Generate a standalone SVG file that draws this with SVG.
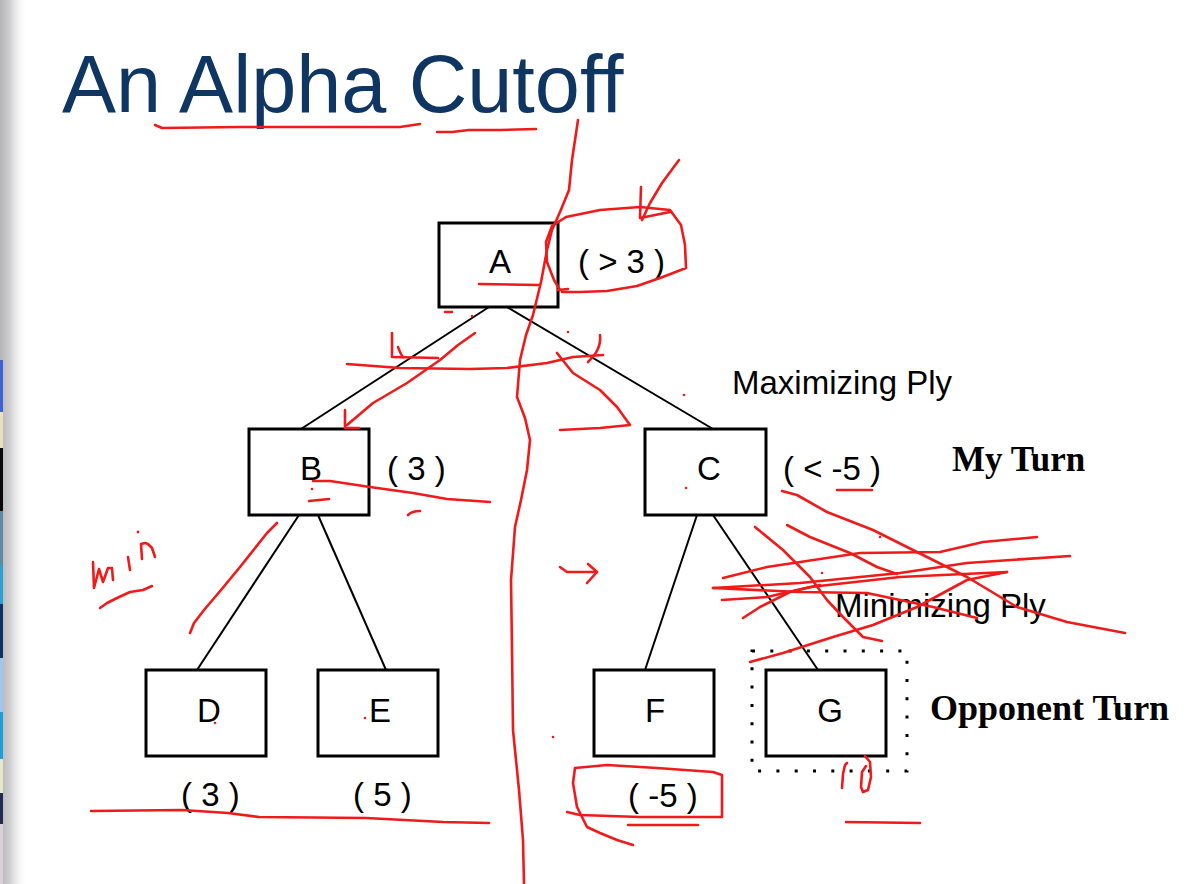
<svg xmlns="http://www.w3.org/2000/svg" width="1190" height="884" viewBox="0 0 1190 884">
  <defs>
    <linearGradient id="edgeShade" x1="0" y1="0" x2="1" y2="0">
      <stop offset="0" stop-color="#b4b4b6"/>
      <stop offset="0.35" stop-color="#cfcfd1"/>
      <stop offset="1" stop-color="#ffffff" stop-opacity="0"/>
    </linearGradient>
    <style>
      .box { fill: #ffffff; stroke: #000000; stroke-width: 3; }
      .edge { stroke: #000000; stroke-width: 2; fill: none; }
      .lbl { font-family: "Liberation Sans", Arial, sans-serif; font-size: 33px; fill: #000000; }
      .name { text-anchor: middle; }
      .turn { font-family: "Liberation Serif", "Times New Roman", serif; font-weight: bold; fill: #000000; }
      .ink { fill: none; stroke: #f01a1a; stroke-width: 2.6; stroke-linecap: round; stroke-linejoin: round; }
      .dot { fill: #f01a1a; }
    </style>
  </defs>

  <!-- page background and left edge -->
  <rect x="0" y="0" width="1190" height="884" fill="#ffffff"/>
  <rect x="0" y="0" width="28" height="884" fill="url(#edgeShade)"/>
  <g id="thumbnail-strip">
    <rect x="0" y="360" width="3" height="52" fill="#3d63d2"/>
    <rect x="0" y="412" width="3" height="36" fill="#e6e2bf"/>
    <rect x="0" y="448" width="3" height="63" fill="#0a0a0a"/>
    <rect x="0" y="511" width="3" height="54" fill="#5b8aa2"/>
    <rect x="0" y="565" width="3" height="39" fill="#2c9fd3"/>
    <rect x="0" y="604" width="3" height="54" fill="#0b3262"/>
    <rect x="0" y="658" width="3" height="54" fill="#9fc6ef"/>
    <rect x="0" y="712" width="3" height="47" fill="#1c9fd8"/>
    <rect x="0" y="759" width="3" height="34" fill="#e6e6c8"/>
    <rect x="0" y="793" width="3" height="31" fill="#232a52"/>
    <rect x="0" y="824" width="3" height="60" fill="#d8d2d8"/>
  </g>

  <!-- title -->
  <text id="title" x="62" y="112" font-family="'Liberation Sans', Arial, sans-serif" font-size="81" fill="#0f3562">An Alpha Cutoff</text>

  <!-- tree edges -->
  <g id="connectors">
    <line class="edge" x1="489" y1="307" x2="301" y2="429"/>
    <line class="edge" x1="507" y1="307" x2="713" y2="429"/>
    <line class="edge" x1="299" y1="515" x2="197" y2="670"/>
    <line class="edge" x1="318" y1="515" x2="386" y2="670"/>
    <line class="edge" x1="697" y1="515" x2="645" y2="670"/>
    <line class="edge" x1="713" y1="515" x2="818" y2="670"/>
  </g>

  <!-- nodes -->
  <g id="node-A">
    <rect class="box" x="439" y="223" width="119" height="84"/>
    <text class="lbl name" x="500" y="273">A</text>
    <text class="lbl" x="578" y="273">( &gt; 3 )</text>
  </g>
  <g id="node-B">
    <rect class="box" x="249" y="429" width="120" height="86"/>
    <text class="lbl name" x="311" y="480">B</text>
    <text class="lbl" x="387" y="480">( 3 )</text>
  </g>
  <g id="node-C">
    <rect class="box" x="645" y="429" width="121" height="86"/>
    <text class="lbl name" x="709" y="480">C</text>
    <text class="lbl" x="783" y="480">( &lt; -5 )</text>
  </g>
  <g id="node-D">
    <rect class="box" x="146" y="670" width="120" height="86"/>
    <text class="lbl name" x="209" y="722">D</text>
    <text class="lbl" x="181" y="806">( 3 )</text>
  </g>
  <g id="node-E">
    <rect class="box" x="318" y="670" width="120" height="86"/>
    <text class="lbl name" x="380" y="722">E</text>
    <text class="lbl" x="353" y="806">( 5 )</text>
  </g>
  <g id="node-F">
    <rect class="box" x="594" y="670" width="120" height="86"/>
    <text class="lbl name" x="655" y="722">F</text>
    <text class="lbl" x="628" y="807">( -5 )</text>
  </g>
  <g id="node-G">
    <rect x="752" y="651" width="155" height="120" fill="none" stroke="#000000" stroke-width="3" stroke-dasharray="3 15.3"/>
    <rect class="box" x="766" y="670" width="120" height="86"/>
    <text class="lbl name" x="830" y="722">G</text>
  </g>

  <!-- ply labels -->
  <g id="ply-labels">
    <text class="lbl" x="732" y="394">Maximizing Ply</text>
    <text class="lbl" x="835" y="617">Minimizing Ply</text>
    <text class="turn" x="952" y="471" font-size="35">My Turn</text>
    <text class="turn" x="930" y="720" font-size="36">Opponent Turn</text>
  </g>

  <!-- red pen annotations -->
  <g id="annotations">
    <!-- title underlines -->
    <path class="ink" d="M155,125 L162,128 L240,127 L330,127 L400,127 L420,124"/>
    <path class="ink" d="M437,132 L452,132 L469,130 L500,130 L536,129"/>
    <!-- long divider -->
    <path class="ink" d="M578,120 L572,160 L569,190 L560,212 L552,230 L547,250 L541,282 L533,315 L526,335 L520,360 L517,397 L525,418 L530,440 L527,470 L521,500 L515,527 L511,580 L512,650 L513,730 L519,790 L523,840 L524,884"/>
    <!-- loop round the root value -->
    <path class="ink" d="M562,292 L580,292 L607,291 L637,286 L660,278 L686,268 L685,245 L681,225 L670,210 L640,207 L600,210 L566,217 L552,226 L546,242 L547,262 L554,280 L560,290"/>
    <path class="ink" d="M558,290 L568,289"/>
    <path class="ink" d="M679,160 L662,183 L650,203 L642,220"/>
    <path class="ink" d="M641,187 L640,218 L670,212"/>
    <!-- root underline and marks -->
    <path class="ink" d="M479,284 L540,285"/>
    <path class="ink" d="M445,312 L452,312"/>
    <circle class="dot" cx="472" cy="316" r="1.3"/>
    <circle class="dot" cx="568" cy="332" r="1.3"/>
    <circle class="dot" cx="684" cy="395" r="1.3"/>
    <!-- marks across the first ply -->
    <path class="ink" d="M392,333 L392,357 L438,358"/>
    <path class="ink" d="M398,347 C400,352 401,355 403,357"/>
    <path class="ink" d="M347,364 L400,368 L470,369 L507,368 L547,363 L573,357 L603,355"/>
    <path class="ink" d="M475,333 L458,345 L440,360 L407,383 L373,403 L347,425"/>
    <path class="ink" d="M345,410 L345,428 L359,428"/>
    <path class="ink" d="M600,335 C601,346 597,353 588,362"/>
    <path class="ink" d="M557,353 L573,373 L600,390 L617,407 L630,425 L600,428 L560,430"/>
    <!-- around B -->
    <path class="ink" d="M313,481 L330,481 L370,487 L413,493 L447,499 L490,502"/>
    <circle class="dot" cx="312" cy="489" r="1.3"/>
    <path class="ink" d="M309,501 L329,499"/>
    <path class="ink" d="M408,515 C411,512 415,511 420,511"/>
    <path class="ink" d="M277,523 L267,533 L240,567 L221,590 L204,610 L194,623 L190,633"/>
    <!-- handwritten "min" -->
    <path class="ink" d="M93,562 L94,588 L99,569 L103,582 L108,568 L112,568 L113,580"/>
    <path class="ink" d="M128,557 L130,570"/>
    <circle class="dot" cx="138" cy="532" r="1.4"/>
    <path class="ink" d="M142,559 L141,544 L145,543 L148,544 L152,548 L155,557"/>
    <path class="ink" d="M100,608 L107,603 L117,598 L130,592 L143,590 L152,586"/>
    <!-- leaf value underline -->
    <path class="ink" d="M91,811 L182,810 L228,813 L259,817 L366,818 L443,822 L489,823"/>
    <circle class="dot" cx="215" cy="723" r="1.3"/>
    <circle class="dot" cx="365" cy="718" r="1.3"/>
    <circle class="dot" cx="553" cy="737" r="1.3"/>
    <circle class="dot" cx="686" cy="488" r="1.3"/>
    <!-- small arrow -->
    <path class="ink" d="M560,567 L567,572 L597,572"/>
    <path class="ink" d="M588,564 L597,572 L587,583"/>
    <!-- loop round F value -->
    <path class="ink" d="M575,768 L607,765 L657,768 L713,772 L722,775 L722,817 L690,817 L640,817 L580,815 L567,812"/>
    <path class="ink" d="M575,768 L573,783 L577,807 L587,827 L600,833 L617,840 L633,845"/>
    <path class="ink" d="M628,825 L698,825"/>
    <!-- C value underline -->
    <path class="ink" d="M837,490 L872,490"/>
    <!-- cross-outs over the C to G branch -->
    <path class="ink" d="M782,491 L797,495 L827,512 L873,530 L917,552 L967,577 L1017,607 L1067,622 L1125,633"/>
    <path class="ink" d="M755,527 L783,550 L810,577 L827,600 L843,617 L863,637 L882,641"/>
    <path class="ink" d="M787,525 L810,537 L850,553 L877,567 L897,574"/>
    <path class="ink" d="M723,578 L767,567 L860,553 L940,552 L983,542 L1037,537"/>
    <path class="ink" d="M713,588 L800,583 L900,573 L967,563 L1070,556"/>
    <path class="ink" d="M722,600 L767,597 L810,587 L900,577 L1007,572"/>
    <path class="ink" d="M713,588 L800,592 L867,593 L900,600 L933,607 L977,618"/>
    <path class="ink" d="M743,618 L760,607 L790,592 L820,585"/>
    <path class="ink" d="M750,662 L783,653 L833,637 L873,625 L917,607 L967,580 L1007,572"/>
    <circle class="dot" cx="822" cy="573" r="1.3"/>
    <circle class="dot" cx="880" cy="537" r="1.3"/>
    <!-- handwritten "10" under G -->
    <path class="ink" d="M847,763 L845,765 L843,774 L842,788"/>
    <path class="ink" d="M865,756 L870,762 L871,777 L868,790 L863,792 L861,787 L862,772 L866,766"/>
    <path class="ink" d="M846,822 L920,823"/>
  </g>
</svg>
